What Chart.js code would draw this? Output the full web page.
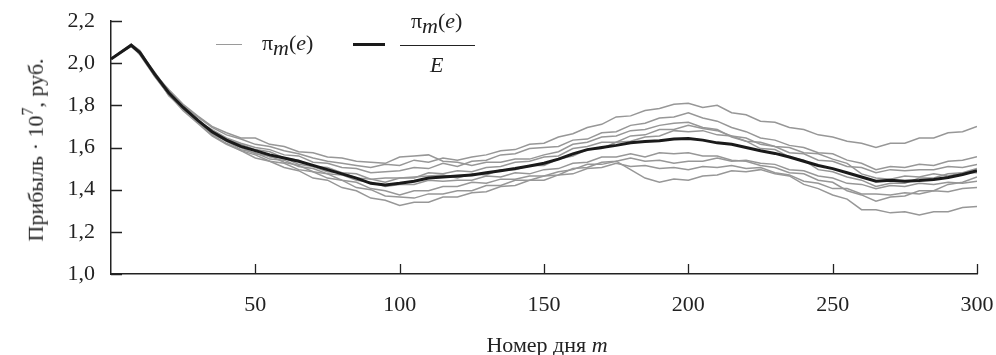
<!DOCTYPE html>
<html>
<head>
<meta charset="utf-8">
<script src="https://cdn.jsdelivr.net/npm/chart.js@4.4.1/dist/chart.umd.min.js"></script>
<style>
  html, body { margin:0; padding:0; background:#fff; }
  #wrap { position:relative; width:996px; height:355px; font-family:'Liberation Serif','DejaVu Serif',serif; color:#222; }
  #c { position:absolute; left:0; top:0; }
  .ov { position:absolute; white-space:nowrap; }
  .it { font-style:italic; }
</style>
</head>
<body>
<div id="wrap">
  <canvas id="c" width="996" height="355"></canvas>
  <!-- legend -->
  <div class="ov" style="left:216px; top:44px; width:26px; height:0; border-top:1.6px solid #9a9a9a;"></div>
  <div class="ov" style="left:262px; top:30px; font-size:22px;">π<span class="it" style="position:relative; top:5px;">m</span>(<span class="it">e</span>)</div>
  <div class="ov" style="left:353px; top:43px; width:32px; height:0; border-top:3px solid #1a1a1a;"></div>
  <div class="ov" style="left:411px; top:8px; font-size:22px;">π<span class="it" style="position:relative; top:5px;">m</span>(<span class="it">e</span>)</div>
  <div class="ov" style="left:400px; top:45px; width:75px; height:0; border-top:1.3px solid #222;"></div>
  <div class="ov it" style="left:430px; top:52px; font-size:22px;">E</div>
  <!-- axis titles -->
  <div class="ov" style="left:35px; top:150px; font-size:22px; transform:translate(-50%,-50%) rotate(-90deg);">Прибыль · 10<sup style="font-size:16px; position:relative; top:-2px;">7</sup>, руб.</div>
  <div class="ov" style="left:547px; top:345px; font-size:22px; transform:translate(-50%,-50%);">Номер дня <span class="it">m</span></div>
</div>
<script>
// ---- data ----
const days = [0,7,10,15,20,25,30,35,40,45,50,55,60,65,70,75,80,85,90,95,100,105,110,115,120,125,130,135,140,145,150,155,160,165,170,175,180,185,190,195,200,205,210,215,220,225,230,235,240,245,250,255,260,265,270,275,280,285,290,295,300];

const meanProfit = [2.02,2.085,2.05,1.95,1.86,1.79,1.73,1.675,1.635,1.605,1.585,1.565,1.55,1.535,1.515,1.495,1.475,1.455,1.43,1.422,1.43,1.44,1.455,1.46,1.465,1.47,1.48,1.49,1.50,1.512,1.525,1.545,1.57,1.59,1.60,1.61,1.622,1.628,1.632,1.64,1.643,1.635,1.622,1.615,1.60,1.585,1.572,1.555,1.535,1.515,1.50,1.48,1.46,1.44,1.445,1.44,1.443,1.448,1.458,1.472,1.49];

const run1 = [2.02,2.087,2.055,1.955,1.87,1.80,1.745,1.695,1.66,1.64,1.615,1.605,1.585,1.57,1.55,1.535,1.525,1.515,1.505,1.52,1.515,1.54,1.53,1.55,1.54,1.555,1.565,1.585,1.59,1.615,1.62,1.65,1.665,1.695,1.71,1.745,1.75,1.775,1.785,1.805,1.81,1.79,1.80,1.765,1.755,1.725,1.72,1.695,1.685,1.66,1.65,1.63,1.62,1.60,1.62,1.62,1.645,1.645,1.67,1.675,1.70];
const run2 = [2.02,2.082,2.045,1.945,1.855,1.79,1.725,1.685,1.645,1.62,1.60,1.59,1.565,1.56,1.53,1.525,1.505,1.50,1.48,1.485,1.49,1.505,1.50,1.525,1.51,1.535,1.54,1.565,1.57,1.595,1.60,1.605,1.635,1.64,1.67,1.675,1.705,1.715,1.74,1.745,1.765,1.74,1.725,1.695,1.675,1.645,1.635,1.61,1.60,1.575,1.57,1.54,1.525,1.495,1.51,1.505,1.52,1.515,1.535,1.54,1.556];
const run3 = [2.02,2.085,2.05,1.96,1.865,1.785,1.735,1.67,1.635,1.60,1.585,1.555,1.55,1.52,1.51,1.485,1.48,1.455,1.45,1.435,1.455,1.455,1.48,1.475,1.49,1.485,1.505,1.51,1.53,1.535,1.555,1.56,1.595,1.605,1.625,1.625,1.655,1.66,1.685,1.685,1.705,1.69,1.68,1.655,1.645,1.615,1.605,1.575,1.57,1.54,1.535,1.51,1.505,1.48,1.495,1.49,1.495,1.495,1.51,1.505,1.52];
const run4 = [2.02,2.09,2.06,1.95,1.875,1.805,1.75,1.70,1.67,1.645,1.645,1.615,1.605,1.58,1.575,1.555,1.55,1.535,1.53,1.525,1.555,1.56,1.565,1.535,1.53,1.515,1.53,1.53,1.545,1.545,1.565,1.58,1.615,1.625,1.65,1.655,1.68,1.685,1.705,1.715,1.72,1.695,1.685,1.65,1.63,1.595,1.59,1.555,1.54,1.495,1.485,1.46,1.445,1.415,1.43,1.43,1.455,1.455,1.475,1.48,1.50];
const run5 = [2.02,2.083,2.04,1.94,1.85,1.795,1.72,1.68,1.64,1.615,1.59,1.58,1.55,1.54,1.51,1.505,1.48,1.475,1.45,1.455,1.455,1.46,1.465,1.47,1.455,1.475,1.47,1.495,1.495,1.515,1.515,1.545,1.56,1.59,1.595,1.625,1.63,1.65,1.655,1.68,1.675,1.68,1.66,1.655,1.63,1.625,1.605,1.60,1.575,1.57,1.545,1.525,1.475,1.455,1.45,1.465,1.46,1.475,1.465,1.48,1.48];
const run6 = [2.02,2.086,2.05,1.945,1.86,1.78,1.73,1.665,1.63,1.59,1.575,1.545,1.54,1.51,1.50,1.475,1.47,1.445,1.435,1.415,1.425,1.425,1.445,1.44,1.445,1.445,1.465,1.46,1.48,1.475,1.495,1.50,1.525,1.53,1.555,1.555,1.57,1.555,1.575,1.57,1.575,1.56,1.56,1.54,1.535,1.515,1.505,1.48,1.475,1.445,1.435,1.395,1.375,1.345,1.365,1.37,1.395,1.395,1.425,1.435,1.46];
const run7 = [2.02,2.08,2.045,1.955,1.845,1.785,1.72,1.66,1.62,1.585,1.565,1.535,1.525,1.495,1.485,1.455,1.445,1.41,1.40,1.37,1.365,1.36,1.38,1.38,1.395,1.395,1.42,1.42,1.445,1.445,1.465,1.47,1.50,1.505,1.53,1.535,1.55,1.535,1.54,1.525,1.535,1.535,1.55,1.535,1.54,1.525,1.52,1.495,1.49,1.465,1.455,1.43,1.425,1.405,1.42,1.415,1.43,1.425,1.435,1.43,1.44];
const run8 = [2.02,2.085,2.055,1.94,1.85,1.775,1.715,1.655,1.615,1.585,1.55,1.535,1.505,1.49,1.455,1.445,1.41,1.395,1.36,1.35,1.325,1.34,1.34,1.365,1.365,1.385,1.39,1.415,1.42,1.445,1.445,1.47,1.475,1.50,1.505,1.525,1.51,1.515,1.50,1.505,1.495,1.51,1.505,1.515,1.50,1.505,1.48,1.47,1.44,1.43,1.405,1.405,1.38,1.38,1.375,1.385,1.38,1.395,1.39,1.405,1.41];
const run9 = [2.02,2.088,2.05,1.95,1.865,1.79,1.73,1.67,1.63,1.60,1.57,1.56,1.53,1.515,1.485,1.475,1.445,1.435,1.405,1.395,1.375,1.395,1.395,1.415,1.415,1.435,1.43,1.45,1.45,1.465,1.465,1.485,1.495,1.52,1.52,1.535,1.495,1.455,1.435,1.45,1.445,1.465,1.47,1.49,1.485,1.495,1.475,1.465,1.425,1.405,1.375,1.355,1.305,1.305,1.29,1.295,1.28,1.295,1.295,1.315,1.32];

const runs = [run1,run2,run3,run4,run5,run6,run7,run8,run9];
const yTicks = [1.0,1.2,1.4,1.6,1.8,2.0,2.2];
const xTicks = [50,100,150,200,250,300];

// ---- chart ----
const pts = arr => days.map((d,i) => ({x:d, y:arr[i]}));
const datasets = [{
  data: pts(meanProfit), borderColor:'#1a1a1a', borderWidth:3, pointRadius:0, order:0, tension:0
}].concat(runs.map(r => ({
  data: pts(r), borderColor:'#979797', borderWidth:1.5, pointRadius:0, order:1, tension:0
})));

const inwardTicks = {
  id:'inwardTicks',
  afterDraw(chart){
    const {ctx, chartArea:a, scales:{x, y}} = chart;
    ctx.save();
    ctx.strokeStyle = '#222';
    ctx.lineWidth = 1.3;
    ctx.beginPath();
    yTicks.forEach(v => { const py = Math.round(y.getPixelForValue(v))+0.5; ctx.moveTo(a.left, py); ctx.lineTo(a.left+11, py); });
    xTicks.forEach(v => { const px = Math.round(x.getPixelForValue(v))+0.5; ctx.moveTo(px, a.bottom); ctx.lineTo(px, a.bottom-10); });
    ctx.stroke();
    ctx.restore();
  }
};

const tickFont = {family:"'Liberation Serif', serif", size:22};
new Chart(document.getElementById('c'), {
  type:'line',
  data:{datasets},
  options:{
    responsive:false, animation:false, devicePixelRatio:1,
    layout:{padding:{left:0, right:19, top:21, bottom:0}},
    plugins:{legend:{display:false}, tooltip:{enabled:false}},
    scales:{
      x:{type:'linear', min:0, max:300,
         afterBuildTicks(s){ s.ticks = xTicks.map(v => ({value:v})); },
         afterFit(s){ s.height = 81; s.paddingLeft = 0; s.paddingRight = 0; },
         ticks:{font:tickFont, color:'#222', padding:18, maxRotation:0, autoSkip:false},
         grid:{display:true, drawOnChartArea:false, drawTicks:false},
         border:{display:true, color:'#222', width:1.5}},
      y:{type:'linear', min:1.0, max:2.2,
         afterBuildTicks(s){ s.ticks = yTicks.map(v => ({value:v})); },
         afterFit(s){ s.width = 111; s.paddingTop = 0; s.paddingBottom = 0; },
         ticks:{font:tickFont, color:'#222', padding:16, callback:v => v.toFixed(1).replace('.', ',')},
         grid:{display:true, drawOnChartArea:false, drawTicks:false},
         border:{display:true, color:'#222', width:1.5}}
    }
  },
  plugins:[inwardTicks]
});
</script>
</body>
</html>
